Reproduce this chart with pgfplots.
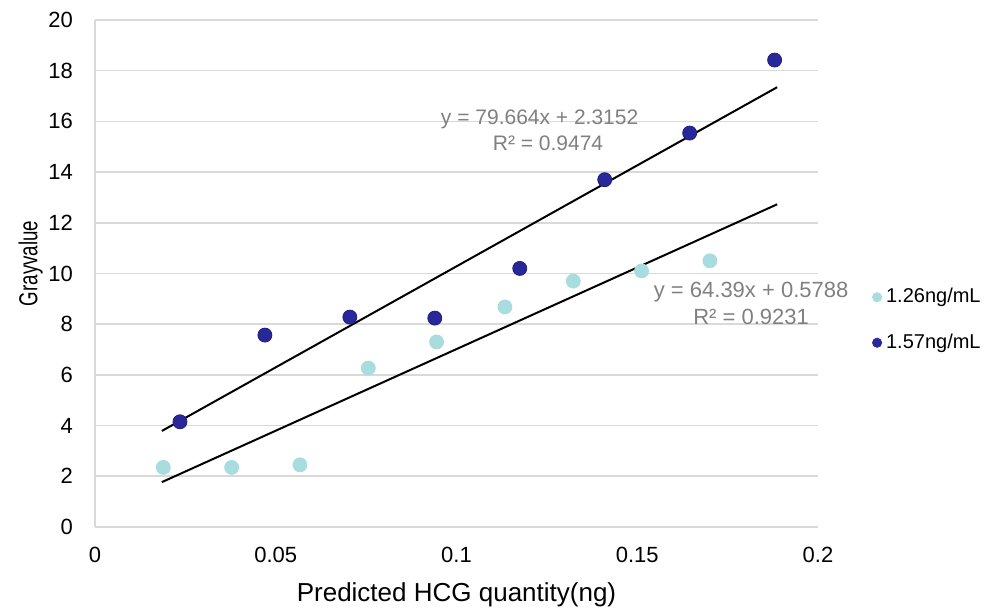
\documentclass[border=0pt]{standalone}
\usepackage{fontspec}
\setmainfont{Liberation Sans}
\newfontfamily\narrowfont[FakeStretch=0.72]{Liberation Sans}
\usepackage{pgfplots}
\pgfplotsset{compat=1.18}

\definecolor{lightser}{RGB}{168,220,222}
\definecolor{darkser}{RGB}{40,40,155}
\definecolor{eqgray}{RGB}{128,128,128}
\definecolor{gridgray}{RGB}{217,217,217}

\begin{document}
\begin{tikzpicture}
% 1 px of the reference = 0.5pt
\path[use as bounding box] (-47.5pt,-41pt) rectangle (451.5pt,263.5pt);
\begin{axis}[
    scale only axis,
    width=361.5pt, height=253.5pt,
    xmin=0, xmax=0.2, ymin=0, ymax=20,
    xtick={0,0.05,...,0.2}, ytick={0,2,...,20},
    xticklabels={0,0.05,0.1,0.15,0.2},
    /pgf/number format/assume math mode=true,
    axis lines=left,
    axis line style={draw=gridgray, line width=0.8pt, -},
    ymajorgrids,
    grid style={draw=gridgray, line width=0.8pt},
    major tick length=0pt,
    tick style={draw=none},
    x tick label style={font=\fontsize{11}{13}\selectfont, yshift=-6.5pt},
    y tick label style={font=\fontsize{11}{13}\selectfont, xshift=-7.5pt},
    xlabel={Predicted HCG quantity(ng)},
    ylabel={Grayvalue},
    xlabel style={font=\fontsize{13}{15}\selectfont, yshift=-3pt},
    ylabel style={font=\narrowfont\fontsize{13}{15}\selectfont, at={(ticklabel cs:0.52)}, yshift=-4pt},
    legend style={at={(1.066,0.487)}, anchor=north west, draw=none, fill=none,
        font=\fontsize{10}{12}\selectfont, row sep=10pt,
        legend cell align=left},
    legend image code/.code={\fill[#1] (0.3cm,0cm) circle (2.3pt);},
    clip=false,
]
% trend lines
\addplot[black, line width=1pt, forget plot] coordinates {(0.0185,1.770) (0.1887,12.729)};
\addplot[black, line width=1pt, forget plot] coordinates {(0.0185,3.789) (0.1887,17.348)};

\addplot[only marks, mark=*, mark size=3.5pt, mark options={fill=lightser, draw=lightser}, color=lightser]
coordinates {
(0.0189,2.35) (0.0378,2.35) (0.0567,2.45) (0.0756,6.27) (0.0945,7.30)
(0.1134,8.68) (0.1323,9.70) (0.1512,10.10) (0.1701,10.50)
};
\addlegendentry{1.26ng/mL}
\addplot[only marks, mark=*, mark size=3.5pt, mark options={fill=darkser, draw=darkser!80!black}, color=darkser]
coordinates {
(0.0235,4.15) (0.0470,7.57) (0.0705,8.28) (0.0940,8.24) (0.1175,10.20)
(0.1410,13.70) (0.1645,15.54) (0.1880,18.42)
};
\addlegendentry{1.57ng/mL}

\node[text=eqgray, align=center, font=\fontsize{10.5}{13}\selectfont] at (axis cs:0.1230,15.66)
    {y = 79.664x + 2.3152\\\hspace*{0.8em}R² = 0.9474};
\node[text=eqgray, align=center, font=\fontsize{11}{13.5}\selectfont] at (axis cs:0.1815,8.8)
    {y = 64.39x + 0.5788\\R² = 0.9231};
\end{axis}
\end{tikzpicture}
\end{document}
